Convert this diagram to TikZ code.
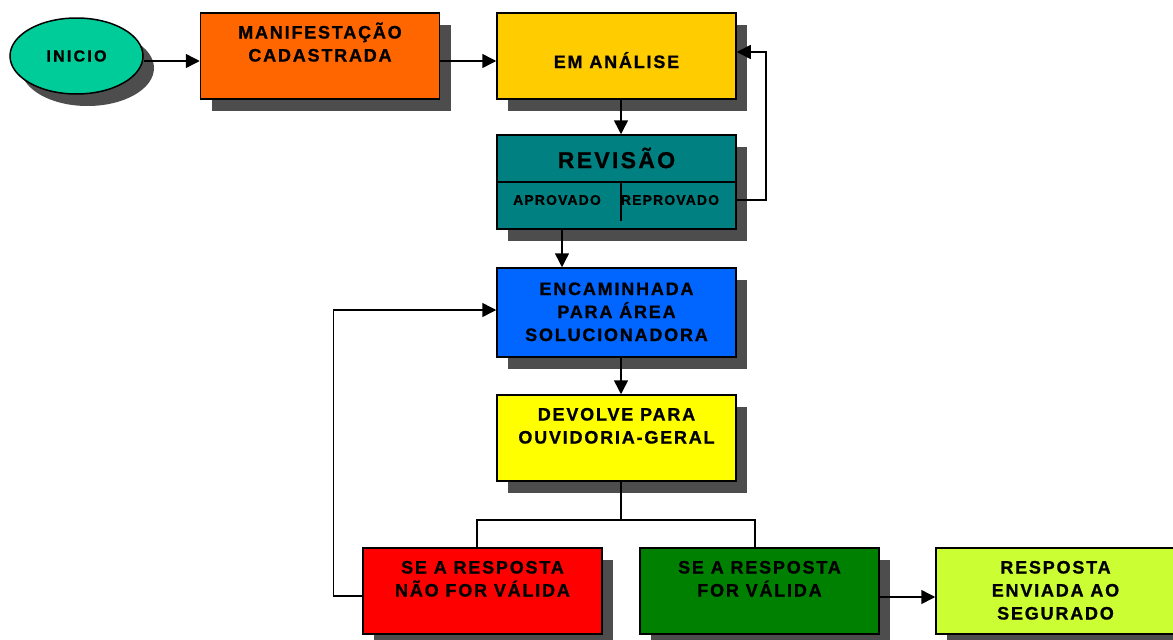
\documentclass[tikz,border=0pt]{standalone}
\usepackage{fontspec}
\setmainfont{Liberation Sans}[LetterSpace=10, BoldFeatures={FakeBold=1}]
\usepackage{xcolor}
\usepackage{tikz}
\usetikzlibrary{shapes.geometric,arrows.meta,shadows}

\definecolor{InicioGreen}{HTML}{00CC99}
\definecolor{ManifOrange}{HTML}{FF6600}
\definecolor{AnaliseGold}{HTML}{FFCC00}
\definecolor{RevisaoTeal}{HTML}{008080}
\definecolor{EncamBlue}{HTML}{0066FF}
\definecolor{DevolveYellow}{HTML}{FFFF00}
\definecolor{NaoRed}{HTML}{FF0000}
\definecolor{ValidaGreen}{HTML}{008000}
\definecolor{RespostaLime}{HTML}{CCFF33}
\definecolor{ShadowGray}{HTML}{4D4D4D}

\newcommand{\toptext}[1]{\parbox[c][68pt][t]{236pt}{\centering\baselineskip=23pt\rule{0pt}{16.5pt}#1\par}}

\tikzset{
  stepbox/.style={draw=black, line width=1.5pt, minimum width=239pt, minimum height=86pt, inner sep=0pt,
    font=\bfseries\fontsize{18}{21}\selectfont,
    general shadow={fill=ShadowGray, shadow xshift=11pt, shadow yshift=-12pt}},
  link/.style={line width=1.5pt, black},
  arr/.style={link, -{Triangle[length=14pt,width=14pt]}},
}

\begin{document}
\begin{tikzpicture}[x=1pt, y=-1pt]

            \useasboundingbox (0,0) rectangle (1173,640);

            \node[stepbox, ellipse, fill=InicioGreen, minimum width=133pt, minimum height=76pt,
              font=\bfseries\fontsize{16}{18}\selectfont\addfontfeature{LetterSpace=14}] (inicio) at (76.5,56) {INICIO};

            \node[stepbox, fill=ManifOrange] (manif) at (320,56) {\toptext{MANIFESTAÇÃO\\CADASTRADA}};

            \node[stepbox, fill=AnaliseGold] (analise) at (616.5,56) {\raisebox{-12pt}[0pt][0pt]{EM ANÁLISE}};

            \node[stepbox, fill=RevisaoTeal, minimum height=94pt] (revisao) at (616.5,182) {};
            \node[font=\bfseries\fontsize{23}{26}\selectfont\addfontfeature{LetterSpace=10}] (revtitulo) at (616.5,158) {REVISÃO};
            \node[font=\bfseries\fontsize{14}{16}\selectfont\addfontfeature{LetterSpace=8}] (aprov) at (557,200) {APROVADO};
            \node[font=\bfseries\fontsize{14}{16}\selectfont\addfontfeature{LetterSpace=8}] (reprov) at (670,200) {REPROVADO};
            \draw[line width=1.5pt] (revisao.west |- 0,182) -- (revisao.east |- 0,182);
            \draw[line width=1.5pt] (621,182) -- (621,221);

            \node[stepbox, fill=EncamBlue, minimum height=89pt] (encam) at (616.5,312.5) {\toptext{ENCAMINHADA\\PARA ÁREA\\SOLUCIONADORA}};

            \node[stepbox, fill=DevolveYellow] (devolve) at (616.5,438) {\toptext{DEVOLVE PARA\\OUVIDORIA-GERAL}};

            \node[stepbox, fill=NaoRed] (naoval) at (482.5,591) {\toptext{SE A RESPOSTA\\NÃO FOR VÁLIDA}};

            \node[stepbox, fill=ValidaGreen] (valida) at (759.5,591) {\toptext{SE A RESPOSTA\\FOR VÁLIDA}};

            \node[stepbox, fill=RespostaLime] (resposta) at (1055.5,591) {\toptext{RESPOSTA\\ENVIADA AO\\SEGURADO}};

            \draw[arr] ([yshift=-5pt]inicio.east) -- ([yshift=-5pt]manif.west);

            \draw[arr] ([yshift=-5pt]manif.east) -- ([yshift=-5pt]analise.west);

            \draw[arr] ([xshift=4.5pt]analise.south) -- ([xshift=4.5pt]revisao.north);

            \draw[arr] (revisao.east |- reprov) -- ++(29,0) |- ([yshift=4pt]analise.east);

            \draw[arr] ([xshift=-54.5pt]revisao.south) -- ([xshift=-54.5pt]encam.north);

            \draw[arr] ([xshift=4.5pt]encam.south) -- ([xshift=4.5pt]devolve.north);

            \draw[link] ([xshift=4.5pt]devolve.south) -- ++(0,38) coordinate (split);
            \draw[link] ([xshift=-5.5pt]naoval.north) |- (split) -| ([xshift=-4.5pt]valida.north);

            \draw[arr] ([yshift=-5pt]naoval.west) -- ++(-29,0) |- ([yshift=2.5pt]encam.west);

            \draw[arr] ([yshift=-6pt]valida.east) -- ([yshift=-6pt]resposta.west);

        \end{tikzpicture}
\end{document}
